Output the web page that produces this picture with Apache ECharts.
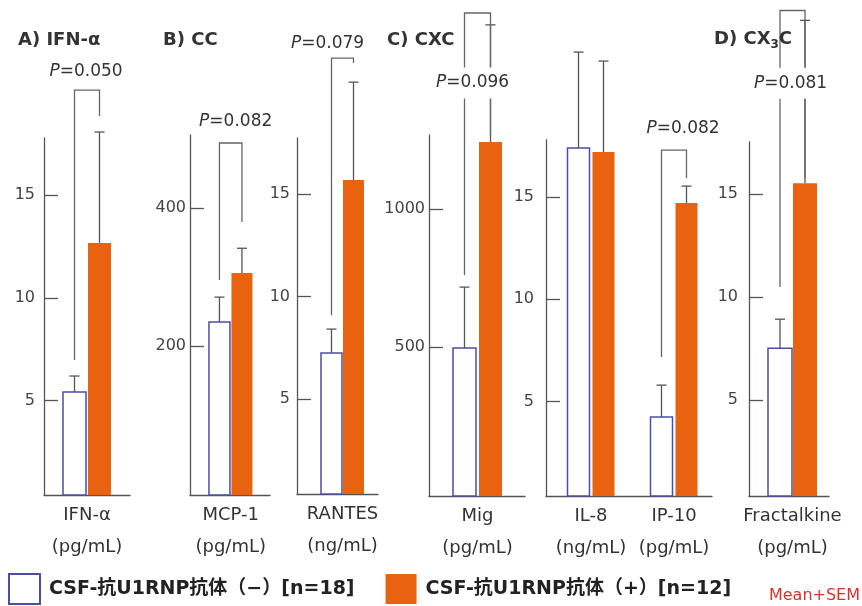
<!DOCTYPE html>
<html><head><meta charset="utf-8">
<script src="https://cdn.jsdelivr.net/npm/echarts@6/dist/echarts.min.js"></script>
<style>html,body{margin:0;padding:0;background:#fff}#c{width:862px;height:606px}</style>
</head><body><div id="c"></div>
<script>
// ---------------- data ----------------
const negName = 'CSF-抗U1RNP抗体（−）[n=18]';
const posName = 'CSF-抗U1RNP抗体（+）[n=12]';
const panelCategories = [['IFN-α'], ['MCP-1'], ['RANTES'], ['Mig'], ['IL-8', 'IP-10'], ['Fractalkine']];
const panelUnits = [['(pg/mL)'], ['(pg/mL)'], ['(ng/mL)'], ['(pg/mL)'], ['(ng/mL)', '(pg/mL)'], ['(pg/mL)']];
const negMean  = [[5.42], [234.9], [7.26], [497], [17.38, 4.25], [7.52]];
const negUpper = [[6.2], [271], [8.42], [718], [22.06, 5.81], [8.93]];
const posMean  = [[12.67], [306], [15.68], [1244], [17.18, 14.7], [15.53]];
const posUpper = [[18.06], [342], [20.45], [1668], [21.62, 15.52], [23.45]];
const yTicks = [[5, 10, 15], [200, 400], [5, 10, 15], [500, 1000], [5, 10, 15], [5, 10, 15]];
const panelTitles = ['A) IFN-α', 'B) CC', 'C) CXC', '{a|D) CX}{s|3}{a|C}'];
// P-value brackets
const bracketPanel = [0, 1, 2, 3, 4, 5];
const bracketCat = [0, 0, 0, 0, 1, 0];
const bracketTop = [20.1, 494.9, 21.62, 1711, 17.28, 23.93];
const bracketLeftEnd = [6.98, 295.9, 9.1, 762, 7.18, 10.49];
const bracketRightEnd = [18.84, 380.1, 21.38, 1265.5, 15.91, 15.78];
const pLabelAt = [20.98, 525.4, 22.35, 1457.6, 18.35, 20.39];
const pValues = ['0.050', '0.082', '0.079', '0.096', '0.082', '0.081'];

// ---------------- layout / style ----------------
const FF = '"DejaVu Sans", Verdana, "Noto Sans CJK JP", sans-serif';
const ORANGE = '#E8620F';
const NAVY = '#4a4fa3';
const AX = '#555';
const layout = [
  {left: 44, right: 130, top: 138, bottom: 495, min: 0.416, max: 17.77, shift: 0, barW: 23, gap: 2, lm: 9, pDx: -1, pPad: 1},
  {left: 190, right: 270, top: 135, bottom: 495, min: -16.4, max: 506.5, shift: 0.7, barW: 21, gap: 1.5, lm: 4, pDx: 5, pPad: 1},
  {left: 297, right: 378, top: 138, bottom: 494, min: 0.387, max: 17.73, shift: 5, barW: 21, gap: 1, lm: 7, pDx: -15, pPad: 1},
  {left: 429, right: 525, top: 135, bottom: 496, min: -38.8, max: 1269, shift: 0.5, barW: 23, gap: 3, lm: 4, pDx: -5, pPad: 7},
  {left: 546, right: 712, top: 140, bottom: 496, min: 0.40, max: 17.77, shift: 3.5, barW: 22, gap: 3, lm: 12, pDx: 9, pPad: 1},
  {left: 749, right: 829, top: 142, bottom: 496, min: 0.34, max: 17.54, shift: 3.5, barW: 24, gap: 1, lm: 11, pDx: -2, pPad: 7}
];
const titlePos = [[13, 26], [158, 26], [382, 26], [709, 22]];

const grids = [], xAxes = [], yAxes = [], series = [];
layout.forEach((L, p) => {
  grids.push({left: L.left, top: L.top, width: L.right - L.left, height: L.bottom - L.top, containLabel: false});
  xAxes.push({
    type: 'category', gridIndex: p, data: panelCategories[p],
    axisLine: {onZero: false, lineStyle: {color: AX, width: 1.3}},
    axisTick: {show: false},
    axisLabel: {
      interval: 0, margin: 4, fontSize: 18, lineHeight: 32, color: '#333', fontFamily: FF,
      padding: [0, 0, 0, 2 * L.shift],
      formatter: (v, i) => v + '\n' + panelUnits[p][i]
    },
    splitLine: {show: false}
  });
  yAxes.push({
    type: 'value', gridIndex: p, min: L.min, max: L.max,
    axisLine: {show: true, onZero: false, lineStyle: {color: AX, width: 1.3}},
    axisTick: {show: true, inside: true, length: 14, customValues: yTicks[p], lineStyle: {color: AX, width: 1.3}},
    axisLabel: {customValues: yTicks[p], margin: L.lm, fontSize: 16, color: '#444', fontFamily: FF,
      formatter: v => String(v)},
    splitLine: {show: false}
  });
  [[-1, negName, negMean, negUpper], [1, posName, posMean, posUpper]].forEach(([side, name, mean, upper]) => {
    series.push({
      type: 'custom', name: name, xAxisIndex: p, yAxisIndex: p, clip: false,
      itemStyle: {color: side < 0 ? '#fff' : ORANGE, borderColor: side < 0 ? NAVY : ORANGE},
      encode: {x: 0, y: 1},
      data: mean[p].map((v, i) => [i, v, upper[p][i]]),
      renderItem: (params, api) => {
        const cat = api.value(0), val = api.value(1), up = api.value(2);
        const c = api.coord([cat, val]);
        const t = api.coord([cat, up]);
        const cs = params.coordSys;
        const base = cs.y + cs.height;
        const x = c[0] + L.shift + side * (L.barW + L.gap) / 2;
        const ls = {stroke: AX, lineWidth: 1.3};
        return {type: 'group', children: [
          {type: 'line', shape: {x1: x, y1: c[1], x2: x, y2: t[1]}, style: ls},
          {type: 'line', shape: {x1: x - 5, y1: t[1], x2: x + 5, y2: t[1]}, style: ls},
          {type: 'rect', shape: {x: x - L.barW / 2, y: c[1], width: L.barW, height: base - c[1]},
           style: side < 0 ? {fill: '#fff', stroke: NAVY, lineWidth: 1.5} : {fill: ORANGE}}
        ]};
      }
    });
  });
});

// brackets
bracketPanel.forEach((p, k) => {
  const L = layout[p];
  series.push({
    type: 'custom', xAxisIndex: p, yAxisIndex: p, clip: false, silent: true, z: 5,
    encode: {x: 0, y: 1},
    data: [[bracketCat[k], bracketTop[k], bracketLeftEnd[k], bracketRightEnd[k], pLabelAt[k]]],
    renderItem: (params, api) => {
      const cat = api.value(0);
      const top = api.coord([cat, api.value(1)]);
      const le = api.coord([cat, api.value(2)]);
      const re = api.coord([cat, api.value(3)]);
      const lab = api.coord([cat, api.value(4)]);
      const xc = top[0] + L.shift;
      const xl = xc - (L.barW + L.gap) / 2, xr = xc + (L.barW + L.gap) / 2;
      return {type: 'group', children: [
        {type: 'polyline', shape: {points: [[xl, le[1]], [xl, top[1]], [xr, top[1]], [xr, re[1]]]},
         style: {stroke: '#666', lineWidth: 1.3, fill: null}},
        {type: 'text', x: xc + L.pDx, y: lab[1], z2: 10,
         style: {text: '{i|P}=' + pValues[k], fontSize: 17, fontFamily: FF, fill: '#333',
                 align: 'center', verticalAlign: 'middle', backgroundColor: '#fff', padding: [L.pPad, 3],
                 rich: {i: {fontStyle: 'italic', fontSize: 17, fontFamily: FF, fill: '#333'}}}}
      ]};
    }
  });
});

const titles = panelTitles.map((t, i) => ({
  text: t, left: titlePos[i][0], top: titlePos[i][1],
  textStyle: {fontSize: 18, fontWeight: 'bold', color: '#333', fontFamily: FF,
    rich: {a: {fontSize: 18, fontWeight: 'bold', color: '#333', fontFamily: FF},
           s: {fontSize: 12, fontWeight: 'bold', color: '#333', fontFamily: FF, padding: [12, 0, 0, 0]}}}
}));

const chart = echarts.init(document.getElementById('c'), null, {renderer: 'canvas'});
chart.setOption({
  animation: false,
  backgroundColor: '#fff',
  title: titles,
  grid: grids, xAxis: xAxes, yAxis: yAxes, series: series,
  legend: {
    left: 8, top: 573, padding: 0, itemWidth: 31, itemHeight: 30, itemGap: 31,
    selectedMode: false,
    textStyle: {fontSize: 19, fontWeight: 'bold', color: '#222', fontFamily: FF, padding: [0, 0, 0, 4]},
    data: [
      {name: negName, icon: 'rect', itemStyle: {color: '#fff', borderColor: NAVY, borderWidth: 2}},
      {name: posName, icon: 'rect', itemStyle: {color: ORANGE, borderColor: ORANGE, borderWidth: 0}}
    ]
  },
  graphic: [{type: 'text', right: 2, top: 588, style: {text: 'Mean+SEM', fill: '#d8312c', font: '16px ' + FF}}]
});
</script></body></html>
